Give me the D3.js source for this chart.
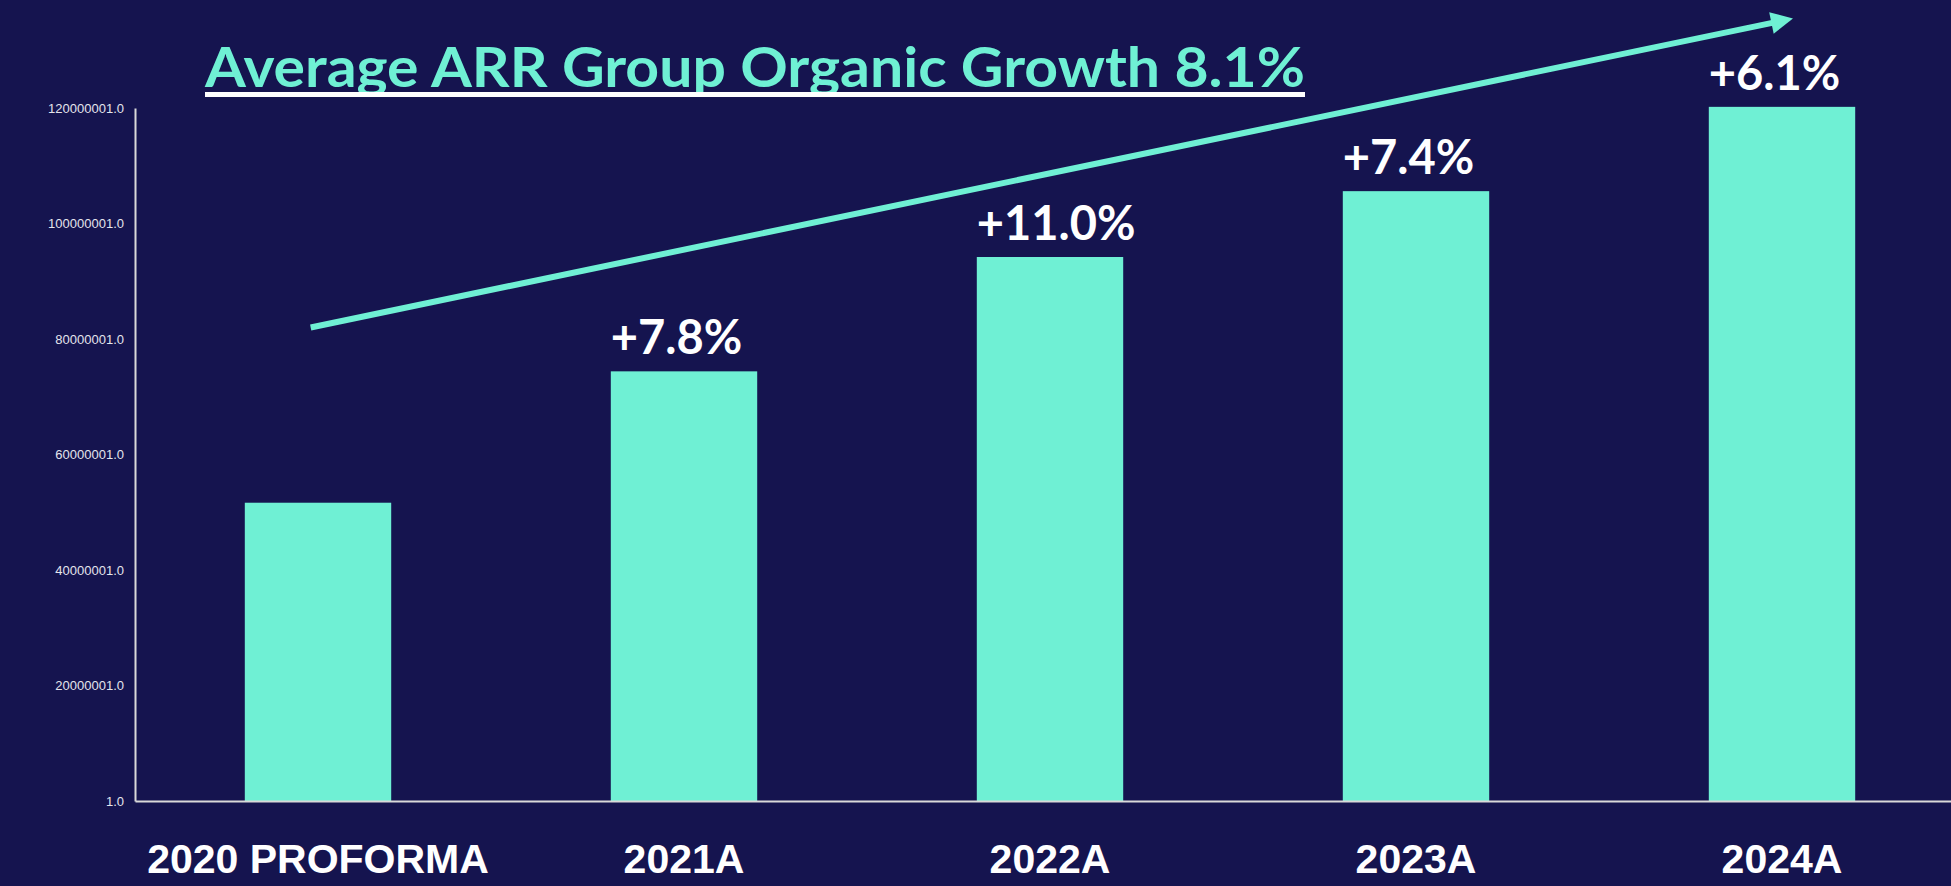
<!DOCTYPE html>
<html>
<head>
<meta charset="utf-8">
<script src="https://cdn.jsdelivr.net/npm/d3@7"></script>
<style>
  html, body { margin: 0; padding: 0; background: #15144f; overflow: hidden; }
  svg { display: block; }
</style>
</head>
<body>
<svg id="chart" width="1951" height="886"></svg>
<script>
// data
const categories = ["2020 PROFORMA", "2021A", "2022A", "2023A", "2024A"];
const arrValues = [51650000, 74400000, 94200000, 105600000, 120200000];
const growthLabels = ["", "+7.8%", "+11.0%", "+7.4%", "+6.1%"];
const yTicks = [1, 20000001, 40000001, 60000001, 80000001, 100000001, 120000001];
const titleText = "Average ARR Group Organic Growth 8.1%";
// trend arrow, in (bar index, value) terms
const trendIndex = [-0.02, 4.03];
const trendValue = [82000000, 135500000];

const teal = "#6ff0d4";
const axisGrey = "#d9d9d9";

const svg = d3.select("#chart"),
  width = +svg.attr("width"),
  height = +svg.attr("height");

const margin = { left: 135, top: 108, bottom: 801 };

const x = d3.scaleBand()
  .domain(categories)
  .range([margin.left, 1965])
  .paddingInner(0.6)
  .paddingOuter(0.3);

const y = d3.scaleLinear()
  .domain([1, 120000001])
  .range([margin.bottom, margin.top]);

// bars
svg.append("g")
  .selectAll("rect")
  .data(categories)
  .join("rect")
    .attr("x", d => x(d))
    .attr("y", (d, i) => y(arrValues[i]))
    .attr("width", x.bandwidth())
    .attr("height", (d, i) => y(1) - y(arrValues[i]))
    .attr("fill", teal);

// y axis
const yAxis = svg.append("g")
  .attr("transform", `translate(${margin.left},0)`)
  .call(d3.axisLeft(y).tickValues(yTicks).tickSize(0).tickSizeOuter(0).tickPadding(11)
    .tickFormat(d => d.toFixed(1)));
yAxis.select(".domain").attr("stroke", axisGrey).attr("stroke-width", 2);
yAxis.selectAll("text")
  .attr("fill", "#e4e4ec")
  .style("font-family", "'Liberation Sans', Arial, sans-serif")
  .style("font-size", "13px");

// x axis
const xAxis = svg.append("g")
  .attr("transform", `translate(0,${margin.bottom})`)
  .call(d3.axisBottom(x).tickSize(0).tickSizeOuter(0));
xAxis.select(".domain").attr("stroke", axisGrey).attr("stroke-width", 2);
xAxis.selectAll("text")
  .attr("y", 72)
  .attr("dy", 0)
  .attr("fill", "#ffffff")
  .style("font-family", "'Liberation Sans', Arial, sans-serif")
  .style("font-weight", "bold")
  .style("font-size", "41px");

// growth labels, left aligned on each bar
svg.append("g")
  .selectAll("text")
  .data(categories)
  .join("text")
    .attr("x", d => x(d))
    .attr("y", (d, i) => y(arrValues[i]) - 17)
    .attr("fill", "#ffffff")
    .style("font-family", "Lato, 'Open Sans', sans-serif")
    .style("font-weight", "bold")
    .style("font-size", "47px")
    .text((d, i) => growthLabels[i]);

// trend arrow
const idx = d3.scaleLinear()
  .domain([0, categories.length - 1])
  .range([x(categories[0]) + x.bandwidth() / 2, x(categories[categories.length - 1]) + x.bandwidth() / 2]);

const x0 = idx(trendIndex[0]), y0 = y(trendValue[0]);
const x1 = idx(trendIndex[1]), y1 = y(trendValue[1]);
const len = Math.hypot(x1 - x0, y1 - y0);
const ux = (x1 - x0) / len, uy = (y1 - y0) / len;
const headLen = 22, headHalf = 11;
const bx = x1 - ux * headLen, by = y1 - uy * headLen;

svg.append("line")
  .attr("x1", x0).attr("y1", y0)
  .attr("x2", bx + ux * 2).attr("y2", by + uy * 2)
  .attr("stroke", teal)
  .attr("stroke-width", 6);

svg.append("path")
  .attr("d", d3.line()([
    [x1, y1],
    [bx - uy * headHalf, by + ux * headHalf],
    [bx + uy * headHalf, by - ux * headHalf]
  ]) + "Z")
  .attr("fill", teal);

// title with underline
const titleX = 205, titleY = 87, titleW = 1100;
svg.append("text")
  .attr("x", titleX)
  .attr("y", titleY)
  .attr("textLength", titleW)
  .attr("lengthAdjust", "spacingAndGlyphs")
  .attr("fill", teal)
  .style("font-family", "Lato, 'Open Sans', sans-serif")
  .style("font-weight", "bold")
  .style("font-size", "56px")
  .text(titleText);

svg.append("line")
  .attr("x1", titleX).attr("x2", titleX + titleW)
  .attr("y1", titleY + 7.5).attr("y2", titleY + 7.5)
  .attr("stroke", "#ffffff")
  .attr("stroke-width", 5);
</script>
</body>
</html>
